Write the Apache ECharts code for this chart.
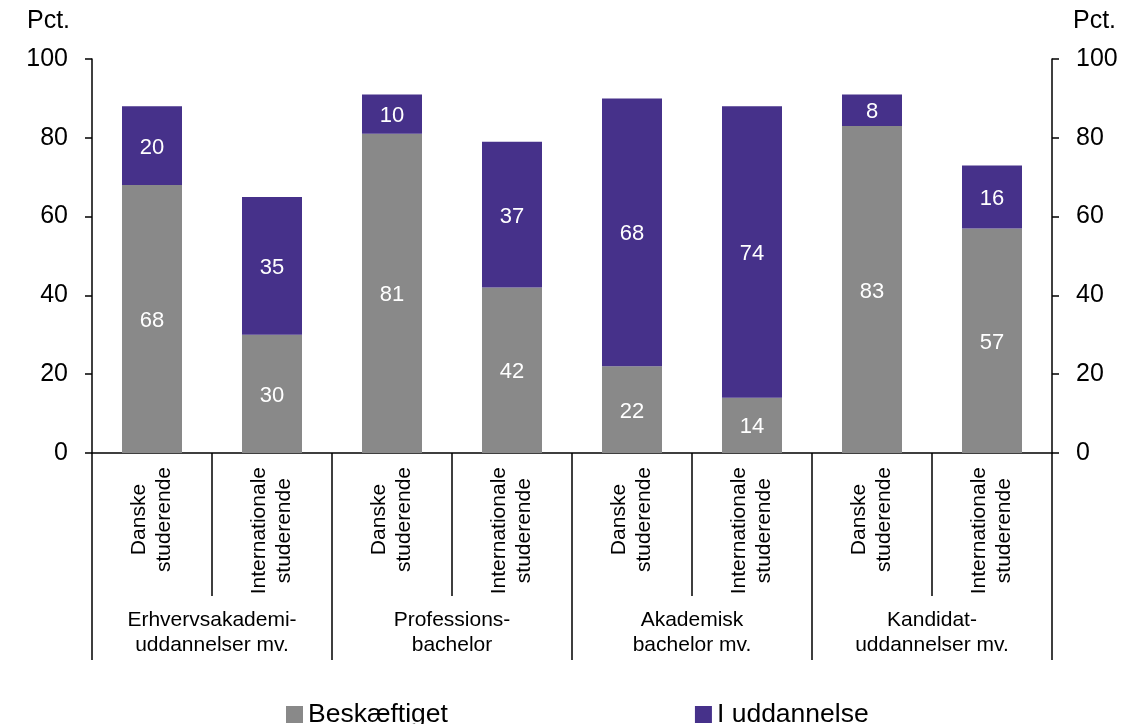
<!DOCTYPE html>
<html>
<head>
<meta charset="utf-8">
<script src="https://cdn.jsdelivr.net/npm/echarts@6/dist/echarts.min.js"></script>
<style>
  html, body { margin: 0; padding: 0; background: #fff; }
  #chart { width: 1142px; height: 724px; }
</style>
</head>
<body>
<div id="chart"></div>
<script>
// Student groups (inner axis) and education types (outer axis)
const categories = [
  'Danske\nstuderende', 'Internationale\nstuderende',
  'Danske\nstuderende', 'Internationale\nstuderende',
  'Danske\nstuderende', 'Internationale\nstuderende',
  'Danske\nstuderende', 'Internationale\nstuderende'
];
const groups = [
  'Erhvervsakademi-\nuddannelser mv.',
  'Professions-\nbachelor',
  'Akademisk\nbachelor mv.',
  'Kandidat-\nuddannelser mv.'
];
const employed = [68, 30, 81, 42, 22, 14, 83, 57];
const inEducation = [20, 35, 10, 37, 68, 74, 8, 16];
const yTicks = [0, 20, 40, 60, 80, 100];

const FONT = 'Arial, "Liberation Sans", sans-serif';
const GRAY = '#898989';
const PURPLE = '#46318A';

const chart = echarts.init(document.getElementById('chart'), null, { renderer: 'canvas' });

const valueAxis = (pos) => ({
  type: 'value',
  position: pos,
  min: yTicks[0],
  max: yTicks[yTicks.length - 1],
  interval: yTicks[1] - yTicks[0],
  splitLine: { show: false },
  axisLine: { show: true, lineStyle: { color: '#000', width: 1.5 } },
  axisTick: { show: true, inside: false, length: 7, lineStyle: { color: '#000', width: 1.5 } },
  axisLabel: { color: '#000', fontSize: 25, fontFamily: FONT, margin: 24 }
});

const barLabel = { show: true, position: 'inside', offset: [0, 2], color: '#fff', fontSize: 22, fontFamily: FONT };

chart.setOption({
  animation: false,
  backgroundColor: '#fff',
  textStyle: { fontFamily: FONT },
  grid: { left: 92, right: 90, top: 59, bottom: 271, containLabel: false },
  graphic: [
    { type: 'text', left: 27, top: 9, style: { text: 'Pct.', font: '25px ' + FONT, fill: '#000' } },
    { type: 'text', left: 1073, top: 9, style: { text: 'Pct.', font: '25px ' + FONT, fill: '#000' } }
  ],
  legend: {
    left: 281, top: 696,
    itemWidth: 17, itemHeight: 17, itemGap: 247,
    icon: 'rect',
    textStyle: { fontSize: 26.5, color: '#000', fontFamily: FONT },
    data: ['Beskæftiget', 'I uddannelse']
  },
  xAxis: [
    {
      type: 'category',
      data: categories,
      position: 'bottom',
      axisLine: { show: true, lineStyle: { color: '#000', width: 1.5 } },
      axisTick: { show: true, interval: 0, length: 143, lineStyle: { color: '#000', width: 1.5 } },
      axisLabel: {
        interval: 0,
        rotate: 90,
        margin: 14,
        color: '#000',
        fontSize: 21,
        lineHeight: 25,
        fontFamily: FONT,
        formatter: (v) => v.split('\n').map(s => '{c|' + s + '}').join('\n'),
        rich: { c: { align: 'center', fontSize: 21, lineHeight: 25, fontFamily: FONT, color: '#000' } }
      }
    },
    {
      type: 'category',
      data: groups,
      position: 'bottom',
      axisLine: { show: false },
      axisTick: { show: true, interval: 0, length: 207, lineStyle: { color: '#000', width: 1.5 } },
      axisLabel: {
        interval: 0,
        margin: 155,
        color: '#000',
        fontSize: 21,
        lineHeight: 25,
        fontFamily: FONT,
        align: 'center'
      }
    }
  ],
  yAxis: [valueAxis('left'), valueAxis('right')],
  series: [
    {
      name: 'Beskæftiget',
      type: 'bar',
      stack: 'total',
      xAxisIndex: 0,
      yAxisIndex: 0,
      barWidth: 60,
      itemStyle: { color: GRAY },
      label: barLabel,
      data: employed
    },
    {
      name: 'I uddannelse',
      type: 'bar',
      stack: 'total',
      xAxisIndex: 0,
      yAxisIndex: 0,
      barWidth: 60,
      itemStyle: { color: PURPLE },
      label: barLabel,
      data: inEducation
    }
  ]
});
</script>
</body>
</html>
